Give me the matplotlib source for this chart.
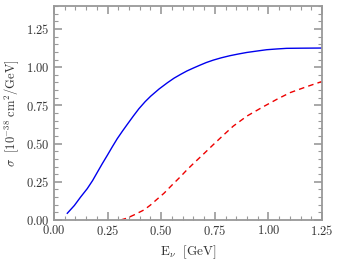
import matplotlib
matplotlib.use("Agg")
import matplotlib.pyplot as plt
from matplotlib.ticker import MultipleLocator

# blue solid curve
e_solid = [0.062, 0.095, 0.124, 0.155, 0.18, 0.202, 0.225, 0.249, 0.272, 0.295, 0.32,
           0.342, 0.37, 0.396, 0.425, 0.451, 0.49, 0.529, 0.56, 0.591, 0.62, 0.653,
           0.681, 0.71, 0.743, 0.78, 0.821, 0.86, 0.899, 0.95, 0.992, 1.04, 1.085,
           1.15, 1.25]
sig_solid = [0.044, 0.095, 0.150, 0.205, 0.258, 0.312, 0.368, 0.424, 0.479, 0.532, 0.583,
             0.626, 0.680, 0.728, 0.774, 0.810, 0.857, 0.898, 0.928, 0.953, 0.975, 0.996,
             1.013, 1.030, 1.046, 1.061, 1.075, 1.086, 1.096, 1.106, 1.114, 1.119, 1.123,
             1.124, 1.125]

# red dashed curve
e_dash = [0.311, 0.34, 0.373, 0.40, 0.42, 0.45, 0.48, 0.513, 0.55, 0.591, 0.62, 0.653,
          0.70, 0.743, 0.79, 0.836, 0.90, 0.976, 1.04, 1.101, 1.18, 1.25]
sig_dash = [0.0, 0.012, 0.033, 0.052, 0.066, 0.098, 0.135, 0.175, 0.228, 0.285, 0.328,
            0.373, 0.435, 0.493, 0.555, 0.614, 0.680, 0.741, 0.790, 0.833, 0.873, 0.906]

plt.rcParams['font.family'] = 'serif'
plt.rcParams['font.serif'] = ['DejaVu Serif']
plt.rcParams['mathtext.fontset'] = 'cm'

fig = plt.figure(figsize=(3.43, 2.64), dpi=100)
ax = fig.add_axes([54 / 343, 44 / 264, 268 / 343, 214 / 264])

ax.plot(e_solid, sig_solid, color='#0000ee', lw=1.0)
ax.plot(e_dash, sig_dash, color='#ee0000', lw=1.0, dashes=(4, 3))

ax.set_xlim(0, 1.25)
ax.set_ylim(0, 1.4)
ax.xaxis.set_major_locator(MultipleLocator(0.25))
ax.xaxis.set_minor_locator(MultipleLocator(0.05))
ax.yaxis.set_major_locator(MultipleLocator(0.25))
ax.yaxis.set_minor_locator(MultipleLocator(0.05))
ax.xaxis.set_major_formatter(lambda v, p: f"${v:.2f}$")
ax.yaxis.set_major_formatter(lambda v, p: f"${v:.2f}$")

gray = '#999999'
for s in ax.spines.values():
    s.set_color(gray)
    s.set_linewidth(1.3)
ax.tick_params(which='both', direction='in', top=True, right=True, color=gray,
               labelsize=9, labelcolor='#333333')
ax.tick_params(which='major', length=6, width=1.2, pad=3)
ax.tick_params(which='minor', length=3, width=0.8)

ax.set_xlabel(r'$\mathrm{E}_\nu\ \ [\mathrm{GeV}]$', fontsize=9.5, color='#333333', labelpad=4)
ax.set_ylabel(r'$\sigma\ \ [10^{-38}\ \mathrm{cm}^2/\mathrm{GeV}]$', fontsize=9,
              color='#333333', labelpad=4)

fig.savefig('out.png', dpi=100)
